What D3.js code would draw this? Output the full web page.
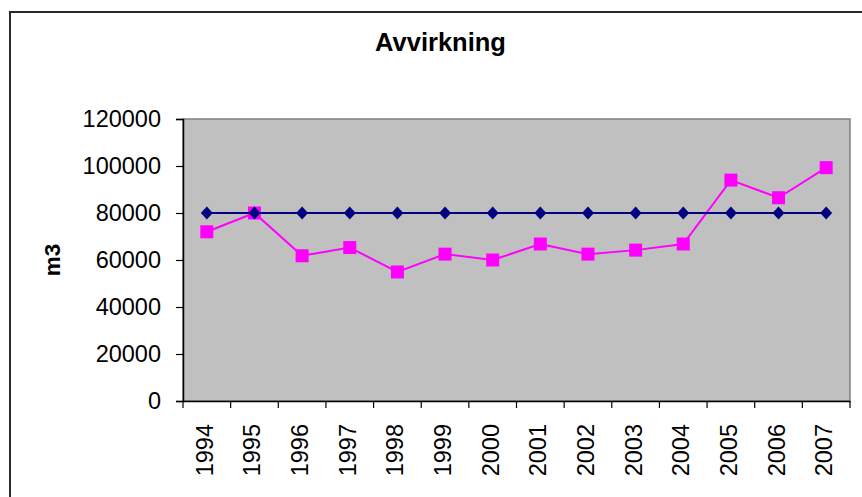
<!DOCTYPE html>
<html>
<head>
<meta charset="utf-8">
<script src="https://cdn.jsdelivr.net/npm/d3@7"></script>
<style>
html,body{margin:0;padding:0;background:#fff;}
svg{display:block;}
text{font-family:"Liberation Sans",Arial,sans-serif;}
</style>
</head>
<body>
<svg id="chart" width="862" height="497"></svg>
<script>
const years = ["1994","1995","1996","1997","1998","1999","2000","2001","2002","2003","2004","2005","2006","2007"];
const target = [80000,80000,80000,80000,80000,80000,80000,80000,80000,80000,80000,80000,80000,80000];
const harvest = [72000,80000,61800,65300,54900,62500,60000,66800,62500,64200,66800,94000,86500,99300];
const yTicks = [0,20000,40000,60000,80000,100000,120000];

const svg = d3.select("#chart");
const L = 183, R = 850, T = 119, B = 401;

// outer chart border (extends beyond right/bottom)
svg.append("rect").attr("x",10).attr("y",12).attr("width",900).attr("height",600)
  .attr("fill","#fff").attr("stroke","#2a2a2a").attr("stroke-width",2);

// title
svg.append("text").attr("x",440.5).attr("y",51).attr("text-anchor","middle")
  .attr("font-weight","bold").attr("font-size",25.5).text("Avvirkning");

const x = d3.scaleBand().domain(years).range([L,R]);
const y = d3.scaleLinear().domain([0,120000]).range([B,T]);

// plot area
svg.append("rect").attr("x",L).attr("y",T).attr("width",R-L).attr("height",B-T)
  .attr("fill","#c0c0c0").attr("stroke","#808080").attr("stroke-width",1.5);

// y axis
const yAxis = svg.append("g").attr("transform",`translate(${L},0)`)
  .call(d3.axisLeft(y).tickValues(yTicks).tickSize(7).tickPadding(15).tickFormat(d3.format("d")));
yAxis.select(".domain").attr("stroke","#000").attr("stroke-width",1.5);
yAxis.selectAll(".tick line").attr("stroke","#000").attr("stroke-width",1.2);
yAxis.selectAll(".tick text").attr("font-size",23.5).attr("fill","#000")
  .attr("font-family","Liberation Sans, Arial, sans-serif");

// x axis
const xAxis = svg.append("g").attr("transform",`translate(0,${B})`)
  .call(d3.axisBottom(x).tickSize(0).tickFormat(""));
xAxis.select(".domain").attr("stroke","#000").attr("stroke-width",1.5);
const bounds = years.map(d => x(d)).concat([R]);
xAxis.selectAll(".btick").data(bounds).enter().append("line")
  .attr("x1",d=>d).attr("x2",d=>d).attr("y1",0).attr("y2",7)
  .attr("stroke","#000").attr("stroke-width",1.2);

svg.append("g").selectAll("text").data(years).enter().append("text")
  .attr("transform",d=>`translate(${x(d)+x.bandwidth()/2},424) rotate(-90)`)
  .attr("text-anchor","end").attr("dy",6).attr("font-size",23.5).attr("fill","#000")
  .text(d=>d);

// y axis title
svg.append("text").attr("transform","translate(52,260) rotate(-90)")
  .attr("text-anchor","middle").attr("dy","0.35em").attr("font-weight","bold")
  .attr("font-size",22.5).text("m3");

const cx = d => x(d) + x.bandwidth()/2;

// harvest series (magenta)
const lineH = d3.line().x((d,i)=>cx(years[i])).y(d=>y(d));
svg.append("path").datum(harvest).attr("d",lineH).attr("fill","none")
  .attr("stroke","#ff00ff").attr("stroke-width",2);
svg.append("g").selectAll("rect").data(harvest).enter().append("rect")
  .attr("x",(d,i)=>cx(years[i])-6.5).attr("y",d=>y(d)-6.5)
  .attr("width",13).attr("height",13).attr("fill","#ff00ff");

// target series (navy)
svg.append("path").datum(target).attr("d",lineH).attr("fill","none")
  .attr("stroke","#000080").attr("stroke-width",2);
const diamond = "M0,-6.5L6,0L0,6.5L-6,0Z";
svg.append("g").selectAll("path").data(target).enter().append("path")
  .attr("d",diamond).attr("transform",(d,i)=>`translate(${cx(years[i])},${y(d)})`)
  .attr("fill","#000080");
</script>
</body>
</html>
